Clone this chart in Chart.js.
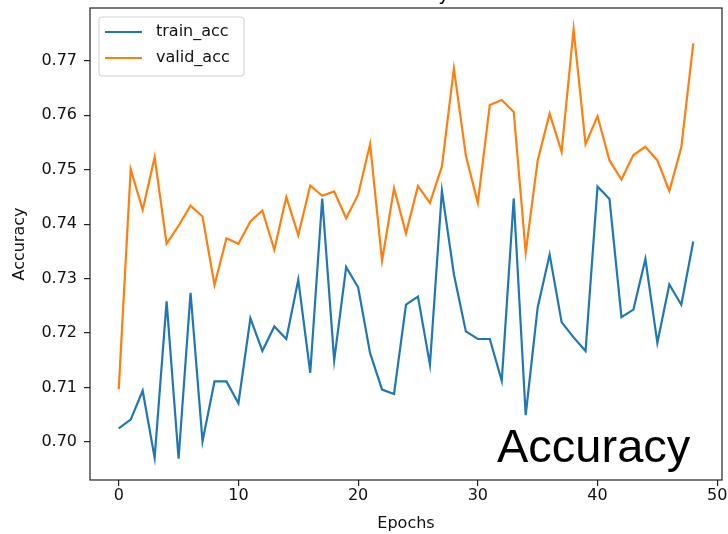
<!DOCTYPE html>
<html>
<head>
<meta charset="utf-8">
<script src="https://cdn.jsdelivr.net/npm/chart.js@4"></script>
<style>
  html, body { margin: 0; padding: 0; background: #fff; }
</style>
</head>
<body>
<canvas id="accChart" width="728" height="534"></canvas>
<script>
// valores
var trainAcc = [0.7025, 0.7041, 0.7094, 0.6971, 0.7258, 0.6969, 0.7274, 0.7001, 0.7111, 0.7111,
                0.7071, 0.7227, 0.7167, 0.7212, 0.7189, 0.7298, 0.7127, 0.7447, 0.7150, 0.7321,
                0.7284, 0.7163, 0.7096, 0.7088, 0.7252, 0.7267, 0.7142, 0.7461, 0.7308, 0.7203,
                0.7189, 0.7189, 0.7112, 0.7447, 0.7049, 0.7247, 0.7344, 0.7220, 0.7192, 0.7167,
                0.7469, 0.7446, 0.7229, 0.7243, 0.7336, 0.7182, 0.7289, 0.7252, 0.7368];
var validAcc = [0.7097, 0.7501, 0.7426, 0.7523, 0.7364, 0.7397, 0.7434, 0.7414, 0.7288, 0.7374,
                0.7364, 0.7405, 0.7425, 0.7353, 0.7450, 0.7380, 0.7471, 0.7452, 0.7460, 0.7411,
                0.7454, 0.7547, 0.7333, 0.7466, 0.7383, 0.7470, 0.7439, 0.7506, 0.7686, 0.7526,
                0.7439, 0.7619, 0.7628, 0.7606, 0.7348, 0.7517, 0.7603, 0.7533, 0.7758, 0.7547,
                0.7598, 0.7517, 0.7482, 0.7527, 0.7542, 0.7517, 0.7461, 0.7541, 0.7732];
var xTicks = [0, 10, 20, 30, 40, 50];
var yTicks = [0.70, 0.71, 0.72, 0.73, 0.74, 0.75, 0.76, 0.77];

var epochs = trainAcc.map(function (v, i) { return i; });
var BLUE = '#1f77b4';
var ORANGE = '#ff7f0e';
var FONT = '"DejaVu Sans", sans-serif';

function pontos(serie) {
    return epochs.map(function (e, i) { return { x: e, y: serie[i] }; });
}

// moldura, legenda e textos soltos
var extrasPlugin = {
    id: 'extras',
    afterDraw: function (chart) {
        var ctx = chart.ctx, a = chart.chartArea;
        ctx.save();
        ctx.strokeStyle = '#222';
        ctx.lineWidth = 1.2;
        ctx.strokeRect(a.left, a.top, a.right - a.left, a.bottom - a.top);

        ctx.fillStyle = '#000';
        ctx.font = '47px "Liberation Sans", Arial, sans-serif';
        ctx.textAlign = 'left';
        ctx.textBaseline = 'alphabetic';
        ctx.fillText('Accuracy', 497, 462);

        ctx.font = '19px ' + FONT;
        ctx.textAlign = 'center';
        ctx.fillText('Accuracy', (a.left + a.right) / 2, 0);

        // legenda
        var bx = a.left + 9, by = a.top + 9, bw = 145, bh = 59;
        ctx.beginPath();
        ctx.roundRect(bx, by, bw, bh, 3);
        ctx.fillStyle = 'rgba(255,255,255,0.8)';
        ctx.fill();
        ctx.strokeStyle = '#d0d0d0';
        ctx.lineWidth = 1;
        ctx.stroke();
        ctx.font = '16px ' + FONT;
        ctx.textAlign = 'left';
        ctx.textBaseline = 'middle';
        chart.data.datasets.forEach(function (ds, i) {
            var ly = by + 15 + i * 26;
            ctx.strokeStyle = ds.borderColor;
            ctx.lineWidth = 2.2;
            ctx.beginPath();
            ctx.moveTo(bx + 6, ly);
            ctx.lineTo(bx + 43, ly);
            ctx.stroke();
            ctx.fillStyle = '#111';
            ctx.fillText(ds.label, bx + 57, ly);
        });
        ctx.restore();
    }
};

var accChart = new Chart(document.getElementById('accChart').getContext('2d'), {
    type: 'line',
    data: {
        datasets: [
            { label: 'train_acc', data: pontos(trainAcc), borderColor: BLUE, backgroundColor: BLUE,
              borderWidth: 2.2, pointRadius: 0, tension: 0, fill: false },
            { label: 'valid_acc', data: pontos(validAcc), borderColor: ORANGE, backgroundColor: ORANGE,
              borderWidth: 2.2, pointRadius: 0, tension: 0, fill: false }
        ]
    },
    options: {
        responsive: false,
        animation: false,
        devicePixelRatio: 1,
        layout: { padding: { top: 8, right: 6, left: 0, bottom: 0 } },
        plugins: { legend: { display: false }, tooltip: { enabled: false } },
        scales: {
            x: {
                type: 'linear',
                min: -2.4,
                max: 50.4,
                afterBuildTicks: function (s) { s.ticks = xTicks.map(function (v) { return { value: v }; }); },
                afterFit: function (s) { s.height = 54; s.paddingLeft = 0; s.paddingRight = 0; },
                grid: { drawOnChartArea: false, drawTicks: true, tickLength: 6, color: '#222', lineWidth: 1.2 },
                border: { display: false },
                ticks: { color: '#111', font: { family: FONT, size: 16 }, padding: 0, maxRotation: 0,
                         callback: function (v) { return v; } },
                title: { display: true, text: 'Epochs', color: '#111', font: { family: FONT, size: 16 },
                         padding: { top: 0, bottom: 1 } }
            },
            y: {
                min: 0.6930,
                max: 0.7797,
                afterBuildTicks: function (s) { s.ticks = yTicks.map(function (v) { return { value: v }; }); },
                afterFit: function (s) { s.width = 90; s.paddingTop = 0; s.paddingBottom = 0; },
                grid: { drawOnChartArea: false, drawTicks: true, tickLength: 6, color: '#222', lineWidth: 1.2 },
                border: { display: false },
                ticks: { color: '#111', font: { family: FONT, size: 16 }, padding: 7,
                         callback: function (v) { return v.toFixed(2); } },
                title: { display: true, text: 'Accuracy', color: '#111', font: { family: FONT, size: 16 },
                         padding: { top: 10, bottom: 0 } }
            }
        }
    },
    plugins: [extrasPlugin]
});
</script>
</body>
</html>
